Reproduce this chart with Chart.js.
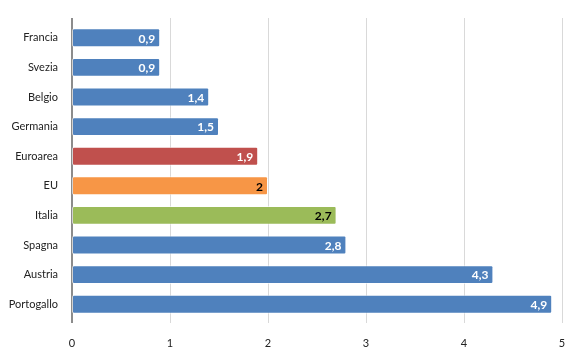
<!DOCTYPE html>
<html>
<head>
<meta charset="utf-8">
<script src="https://cdn.jsdelivr.net/npm/chart.js@4"></script>
<style>
  html, body { margin: 0; padding: 0; background: #fff; }
  #wrap { width: 580px; height: 359px; }
</style>
</head>
<body>
<div id="wrap"><canvas id="myChart" width="580" height="359"></canvas></div>
<script>
const countries = ['Francia', 'Svezia', 'Belgio', 'Germania', 'Euroarea', 'EU', 'Italia', 'Spagna', 'Austria', 'Portogallo'];
const values = [0.9, 0.9, 1.4, 1.5, 1.9, 2, 2.7, 2.8, 4.3, 4.9];
const barColors = ['#4f81bd', '#4f81bd', '#4f81bd', '#4f81bd', '#c0504d', '#f79646', '#9bbb59', '#4f81bd', '#4f81bd', '#4f81bd'];
const labelColors = ['#fff', '#fff', '#fff', '#fff', '#fff', '#000', '#000', '#fff', '#fff', '#fff'];
const xTicks = [0, 1, 2, 3, 4, 5];

const FONT = 'Lato, "Open Sans", sans-serif';

// grid and left axis run a few px past the category band, like the original
const gridLines = {
	id: 'gridLines',
	beforeDatasetsDraw(chart) {
		const { ctx, chartArea, scales } = chart;
		const top = chartArea.top - 5;
		const bottom = chartArea.bottom + 4;
		ctx.save();
		ctx.lineWidth = 1;
		ctx.strokeStyle = '#d9d9d9';
		xTicks.slice(1).forEach(v => {
			const x = Math.round(scales.x.getPixelForValue(v)) + 0.5;
			ctx.beginPath();
			ctx.moveTo(x, top);
			ctx.lineTo(x, bottom);
			ctx.stroke();
		});
		ctx.lineWidth = 2;
		ctx.strokeStyle = '#8c8c8c';
		const x0 = Math.round(scales.x.getPixelForValue(0));
		ctx.beginPath();
		ctx.moveTo(x0, top);
		ctx.lineTo(x0, bottom);
		ctx.stroke();
		ctx.restore();
	}
};

// value labels at the end of each bar, inside
const barLabels = {
	id: 'barLabels',
	afterDatasetsDraw(chart) {
		const ctx = chart.ctx;
		const meta = chart.getDatasetMeta(0);
		ctx.save();
		ctx.font = 'bold 12px ' + FONT;
		ctx.textAlign = 'right';
		ctx.textBaseline = 'middle';
		meta.data.forEach((bar, i) => {
			ctx.fillStyle = labelColors[i];
			ctx.fillText(String(values[i]).replace('.', ','), bar.x - 5, bar.y + 1);
		});
		ctx.restore();
	}
};

new Chart(document.getElementById('myChart'), {
	type: 'bar',
	data: {
		labels: countries,
		datasets: [{
			data: values,
			backgroundColor: barColors,
			borderColor: 'rgba(255,255,255,0.6)',
			borderWidth: 1,
			borderRadius: 2,
			borderSkipped: false,
			categoryPercentage: 1,
			barPercentage: 0.64
		}]
	},
	options: {
		indexAxis: 'y',
		responsive: false,
		animation: false,
		layout: { padding: { top: 23, right: 18, bottom: 0, left: 0 } },
		plugins: {
			legend: { display: false },
			tooltip: { enabled: false }
		},
		scales: {
			x: {
				min: 0,
				max: 5,
				afterBuildTicks: (scale) => { scale.ticks = xTicks.map(v => ({ value: v })); },
				afterFit: (scale) => { scale.height = 40; },
				grid: { display: false },
				border: { display: false },
				ticks: { color: '#222', font: { family: FONT, size: 11 }, padding: 10 }
			},
			y: {
				afterFit: (scale) => { scale.width = 72; },
				grid: { display: false },
				border: { display: false },
				ticks: { color: '#222', font: { family: FONT, size: 11 }, padding: 6 }
			}
		}
	},
	plugins: [gridLines, barLabels]
});
</script>
</body>
</html>
